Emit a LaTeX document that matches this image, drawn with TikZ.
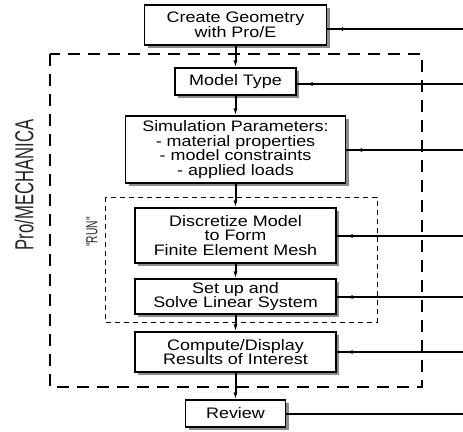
\documentclass[tikz,border=0pt]{standalone}
\usepackage{fontspec}
\setmainfont{Liberation Sans}
\newfontfamily\boxfont{Liberation Sans}[FakeStretch=1.18]
\newfontfamily\narrowfont{Liberation Sans}[FakeStretch=0.64, Ligatures=TeXOff]
\usetikzlibrary{arrows.meta,shadows,decorations.markings}
\begin{document}
\begin{tikzpicture}[x=1pt,y=-1pt,
  box/.style={draw, line width=1.2pt, fill=white, inner sep=0pt, align=center,
    font=\boxfont\fontsize{15.2}{14.6}\selectfont,
    drop shadow={shadow xshift=3pt, shadow yshift=-3pt, fill=black!45, opacity=1}},
  varr/.style={line width=2pt, -{Latex[length=7pt,width=4pt]}},
  harr/.style={line width=1.2pt, postaction={decorate},
    decoration={markings, mark=at position -10pt with {\arrow{Latex[length=6pt,width=4pt]}}}},
  plain/.style={line width=1.2pt},
  outerdash/.style={line width=1.2pt, dash pattern=on 12pt off 8pt},
  innerdash/.style={line width=0.8pt, dash pattern=on 5pt off 4pt},
  vlabel/.style={rotate=90, inner sep=0pt, text=black!85}]
\useasboundingbox (0,0) rectangle (463,431);
\draw[outerdash] (50,54) rectangle (422,387);
\draw[innerdash] (105,197) rectangle (377,322);
\node[box, minimum width=182pt, minimum height=40pt] (geo) at (235.5,25) {Create Geometry\\with Pro/E};
\node[box, minimum width=121pt, minimum height=27pt] (model) at (235.5,81.5) {Model Type};
\node[box, minimum width=220pt, minimum height=67pt] (sim) at (235.5,149.5) {Simulation Parameters:\\- material properties\\- model constraints\\- applied loads};
\node[box, minimum width=201pt, minimum height=55pt] (disc) at (235.5,235.5) {Discretize Model\\to Form\\Finite Element Mesh};
\node[box, minimum width=201pt, minimum height=35pt] (setup) at (235.5,296.5) {Set up and\\Solve Linear System};
\node[box, minimum width=201pt, minimum height=40pt] (comp) at (235.5,352) {Compute/Display\\Results of Interest};
\node[box, minimum width=100pt, minimum height=27pt] (review) at (235.5,413.5) {Review};
\node[vlabel, font=\narrowfont\fontsize{26}{26}\selectfont] (pm) at (24,185) {Pro/MECHANICA};
\node[vlabel, font=\narrowfont\fontsize{16}{16}\selectfont] (run) at (92,232) {"RUN"};
\draw[varr] (geo.south) -- (model.north);
\draw[varr] (model.south) -- (sim.north);
\draw[varr] (sim.south) -- (disc.north);
\draw[varr] (disc.south) -- (setup.north);
\draw[varr] (setup.south) -- (comp.north);
\draw[varr] (comp.south) -- (review.north);
\foreach \n/\y in {geo/29, model/84, sim/150, disc/236, setup/297, comp/352} {
  \coordinate (r\n) at (463,\y);
  \draw[harr] (r\n) -- (r\n -| \n.east);
}
\coordinate (rreview) at (463,414);
\draw[plain] (rreview) -- (rreview -| review.east);
\end{tikzpicture}
\end{document}
